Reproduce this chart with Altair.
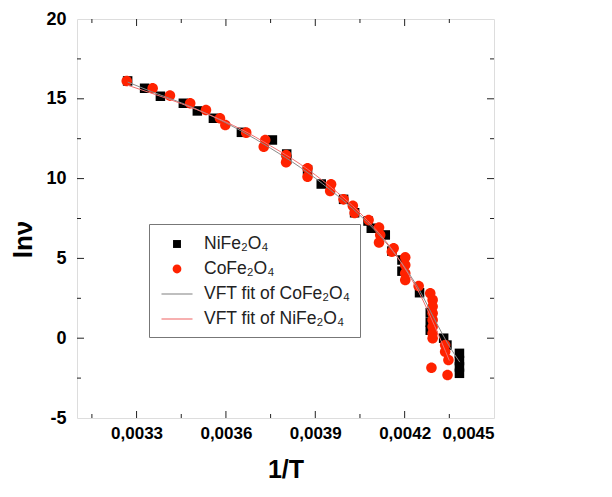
import altair as alt
import pandas as pd

NI = "NiFe₂O₄"
CO = "CoFe₂O₄"
FCO = "VFT fit of CoFe₂O₄"
FNI = "VFT fit of NiFe₂O₄"

ni_x = [0.003270, 0.003327, 0.003380, 0.003457, 0.003504, 0.003558, 0.003652, 0.003756,
        0.003804, 0.003804, 0.003874, 0.003920, 0.003995, 0.004032, 0.004077, 0.004088,
        0.004135, 0.004157, 0.004191, 0.004191, 0.004250, 0.004286, 0.004286, 0.004286,
        0.004331, 0.004342, 0.004384, 0.004384, 0.004384, 0.004384]
ni_y = [16.12, 15.66, 15.16, 14.72, 14.24, 13.78, 12.90, 12.42,
        11.54, 11.20, 10.54, 9.66, 8.70, 7.86, 7.34, 6.89,
        6.47, 5.46, 4.90, 4.20, 2.85, 1.60, 1.00, 0.50,
        0.00, -0.43, -0.95, -1.40, -1.80, -2.20]

co_x = [0.003267, 0.003354, 0.003412, 0.003480, 0.003533, 0.003580, 0.003598, 0.003668,
        0.003732, 0.003727, 0.003802, 0.003802, 0.003874, 0.003874, 0.003953, 0.003950,
        0.003995, 0.004026, 0.004032, 0.004079, 0.004114, 0.004118, 0.004114, 0.004163,
        0.004157, 0.004202, 0.004202, 0.004202, 0.004202, 0.004247, 0.004286, 0.004294,
        0.004294, 0.004294, 0.004294, 0.004294, 0.004294, 0.004294, 0.004290, 0.004336,
        0.004336, 0.004347, 0.004344]
co_y = [16.12, 15.66, 15.20, 14.72, 14.30, 13.78, 13.36, 12.88,
        12.42, 12.00, 11.48, 11.02, 10.65, 10.12, 9.64, 9.22,
        8.70, 8.30, 7.85, 7.40, 6.93, 6.47, 6.00, 5.63,
        5.42, 5.07, 4.59, 4.07, 3.65, 3.27, 2.81, 2.40,
        1.98, 1.56, 1.14, 0.72, 0.31, 0.00, -1.85, -0.43,
        -0.85, -1.37, -2.31]

fitco_x = [0.00327, 0.00335, 0.00345, 0.00355, 0.00365, 0.00375, 0.00385, 0.00395,
           0.00405, 0.00415, 0.00420, 0.00425, 0.00430, 0.00435, 0.004385]
fitco_y = [16.05, 15.45, 14.75, 13.95, 13.00, 11.90, 10.70, 9.30,
           7.70, 5.70, 4.45, 3.00, 1.20, -0.50, -1.50]

fitni_x = [0.00327, 0.00335, 0.00345, 0.00355, 0.00365, 0.00375, 0.00385, 0.00395,
           0.00405, 0.00415, 0.00420, 0.00425, 0.00430, 0.00435]
fitni_y = [15.85, 15.35, 14.70, 13.95, 13.10, 12.05, 10.90, 9.50,
           7.85, 5.75, 4.40, 2.80, 0.80, -1.40]

x_labels = [0.0033, 0.0036, 0.0039, 0.0042, 0.0045]
x_major_in = [0.0033, 0.0036, 0.0039, 0.0042]
x_minor_in = [0.00315, 0.00345, 0.00375, 0.00405, 0.00435]
y_labels = [-5, 0, 5, 10, 15, 20]
y_major_in = [0, 5, 10, 15]
y_minor_in = [-2.5, 2.5, 7.5, 12.5, 17.5]

W, H = 417, 399
series = [NI, CO, FCO, FNI]
colors = ["#000000", "#ff2200", "#8a8a8a", "#f07070"]
SQ = "M-0.36,-0.36H0.36V0.36H-0.36Z"
CI = "M0.4,0A0.4,0.4,0,1,1,-0.4,0A0.4,0.4,0,1,1,0.4,0Z"
LN = "M-1.41,-0.05H1.41V0.05H-1.41Z"
shapes = [SQ, CI, LN, LN]
PT = 697
LEG = 484

pts = pd.concat([
    pd.DataFrame({"x": ni_x, "y": ni_y, "series": NI}),
    pd.DataFrame({"x": co_x, "y": co_y, "series": CO}),
])
fits = pd.concat([
    pd.DataFrame({"x": fitco_x, "y": fitco_y, "series": FCO, "o": range(len(fitco_x))}),
    pd.DataFrame({"x": fitni_x, "y": fitni_y, "series": FNI, "o": range(len(fitni_x))}),
])

FONT = "Liberation Sans"
xs = alt.Scale(domain=[0.0031, 0.0045], nice=False, zero=False)
ys = alt.Scale(domain=[-5, 20], nice=False, zero=False)
cs = alt.Scale(domain=series, range=colors)
ss = alt.Scale(domain=series, range=shapes)

leg = alt.Legend(
    title=None, orient="none", legendX=72, legendY=205, direction="vertical",
    labelFont=FONT, labelFontSize=17.5, labelColor="#222", labelOffset=16,
    symbolSize=LEG, symbolOffset=8, rowPadding=5, padding=9, strokeColor="#777",
    fillColor="white", labelLimit=400, symbolStrokeWidth=0, symbolOpacity=1,
)

xaxis = alt.Axis(
    values=x_labels, title="1/T", ticks=False, domain=False, grid=False,
    labelExpr="replace(format(datum.value, '.4f'), '.', ',')",
    labelFont=FONT, labelFontSize=17, labelFontWeight="bold", labelColor="black",
    labelPadding=7, titleFont=FONT, titleFontSize=25, titleFontWeight="bold",
    titleColor="black", titlePadding=16,
)
yaxis = alt.Axis(
    values=y_labels, title="lnν", ticks=False, domain=False, grid=False,
    labelExpr="datum.value + ''",
    labelFont=FONT, labelFontSize=18, labelFontWeight="bold", labelColor="black",
    labelPadding=11, titleFont=FONT, titleFontSize=26, titleFontWeight="bold",
    titleColor="black", titleAngle=-90, titleBaseline="middle", titleAlign="center",
    titleX=-54, titleY=220,
)

points = alt.Chart(pts).mark_point(filled=True, opacity=1, size=PT).encode(
    x=alt.X("x:Q", scale=xs, axis=xaxis),
    y=alt.Y("y:Q", scale=ys, axis=yaxis),
    color=alt.Color("series:N", scale=cs, legend=leg),
    shape=alt.Shape("series:N", scale=ss, legend=leg),
)
lines = alt.Chart(fits).mark_line(strokeWidth=1, interpolate="monotone").encode(
    x="x:Q", y="y:Q",
    color=alt.Color("series:N", scale=cs, legend=None),
    order="o:Q",
)

def xticks(vals, length):
    d = pd.DataFrame({"x": vals})
    b = alt.Chart(d).mark_rule(color="#222", strokeWidth=1).encode(
        x="x:Q", y=alt.value(H), y2=alt.value(H - length))
    t = alt.Chart(d).mark_rule(color="#222", strokeWidth=1).encode(
        x="x:Q", y=alt.value(0), y2=alt.value(length))
    return [b, t]

def yticks(vals, length):
    d = pd.DataFrame({"y": vals})
    l = alt.Chart(d).mark_rule(color="#222", strokeWidth=1).encode(
        y="y:Q", x=alt.value(0), x2=alt.value(length))
    r = alt.Chart(d).mark_rule(color="#222", strokeWidth=1).encode(
        y="y:Q", x=alt.value(W), x2=alt.value(W - length))
    return [l, r]

layers = [points, lines] + xticks(x_major_in, 7) + xticks(x_minor_in, 4) \
    + yticks(y_major_in, 7) + yticks(y_minor_in, 4)

chart = alt.layer(*layers).properties(
    width=W, height=H,
    autosize=alt.AutoSizeParams(type="none"),
    padding={"left": 69, "top": 11, "right": 60, "bottom": 70},
).configure_view(stroke="#333", strokeWidth=1.3).configure(background="white")

chart.save("out.html", embed_options={"renderer": "svg", "actions": False})
